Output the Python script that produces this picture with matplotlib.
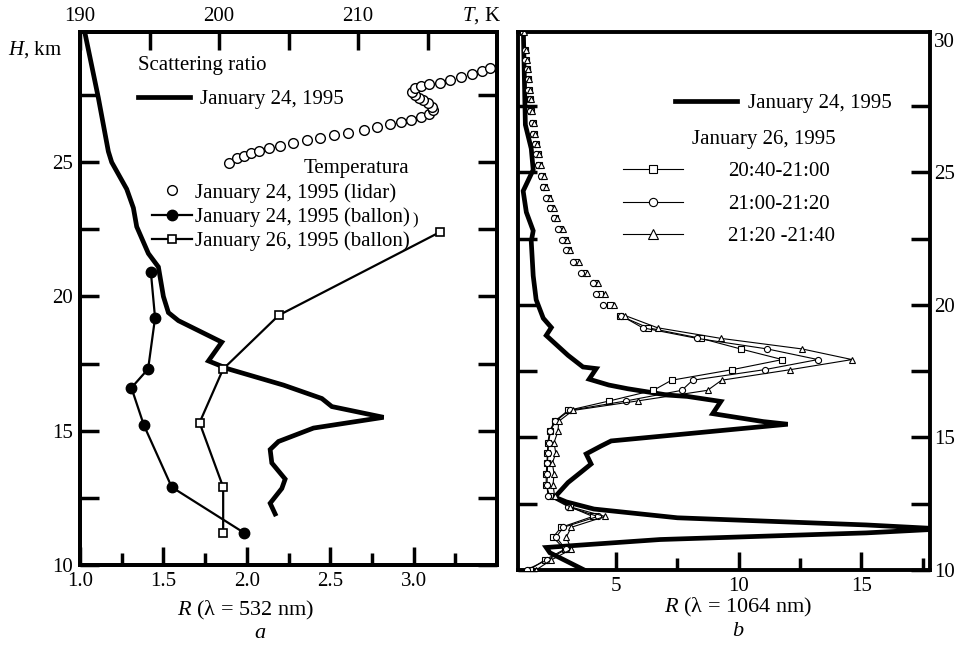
import matplotlib
matplotlib.use('Agg')
import matplotlib.pyplot as plt

plt.rcParams['font.family'] = ['Liberation Serif', 'DejaVu Serif']
plt.rcParams['mathtext.fontset'] = 'custom'
plt.rcParams['mathtext.rm'] = 'Liberation Serif'
plt.rcParams['mathtext.it'] = 'Liberation Serif:italic'
plt.rcParams['font.size'] = 15

# ---- panel a: scattering ratio at 532 nm, January 24 ----
h_sr532 = [29.8, 27.4, 25.4, 25.0, 24.0, 23.3, 22.6, 21.6, 21.1, 20.0, 19.4, 19.1,
           18.3, 17.6, 17.3, 16.7, 16.2, 15.9, 15.5, 15.1, 14.6, 14.3, 13.8, 13.2,
           12.85, 12.3, 11.9]
r_sr532 = [1.03, 1.11, 1.17, 1.19, 1.28, 1.32, 1.34, 1.41, 1.47, 1.50, 1.53, 1.59,
           1.85, 1.77, 1.89, 2.22, 2.45, 2.51, 2.82, 2.40, 2.19, 2.14, 2.15, 2.23,
           2.21, 2.14, 2.17]

# temperature, lidar, January 24
h_lidar = [24.96, 25.15, 25.22, 25.33, 25.41, 25.52, 25.59, 25.70, 25.81, 25.89,
           26.00, 26.07, 26.19, 26.30, 26.41, 26.48, 26.59, 26.67, 26.81, 26.96,
           27.07, 27.19, 27.30, 27.41, 27.52, 27.63, 27.78, 27.85, 27.93, 27.96,
           28.07, 28.19, 28.30, 28.41, 28.52]
t_lidar = [200.7, 201.3, 201.8, 202.3, 202.9, 203.6, 204.4, 205.3, 206.3, 207.3,
           208.3, 209.3, 210.4, 211.4, 212.3, 213.1, 213.8, 214.5, 215.1, 215.4,
           215.3, 215.0, 214.7, 214.4, 214.1, 213.9, 214.1, 214.5, 215.1, 215.9,
           216.6, 217.4, 218.2, 218.9, 219.5]

# temperature, balloon soundings
h_ball24 = [20.9, 19.2, 17.3, 16.6, 15.2, 12.9, 11.2]
t_ball24 = [195.1, 195.4, 194.9, 193.7, 194.6, 196.6, 201.8]
h_ball26 = [22.4, 19.3, 17.3, 15.3, 12.9, 11.2]
t_ball26 = [215.9, 204.3, 200.3, 198.6, 200.3, 200.3]

# ---- panel b: scattering ratio at 1064 nm ----
h_sr1064 = [30.3, 26.8, 25.9, 25.1, 24.3, 23.5, 22.8, 22.4, 21.1, 20.2, 19.5, 19.15,
            18.85, 18.1, 17.66, 17.6, 17.2, 16.98, 16.84, 16.6, 16.55, 16.36, 15.9,
            15.6, 15.5, 14.87, 14.68, 14.38, 14.0, 13.7, 13.3, 12.75, 12.57, 12.3,
            11.97, 11.7, 11.55, 11.4, 11.15, 10.85, 10.65, 10.0]
r_sr1064 = [1.22, 1.30, 1.54, 1.62, 1.21, 1.34, 1.62, 1.54, 1.62, 1.74, 2.03, 2.36,
            2.15, 3.04, 3.65, 4.19, 3.90, 4.70, 5.47, 7.10, 7.90, 9.27, 8.94,
            11.0, 12.0, 4.80, 4.39, 3.78, 3.98, 3.58, 3.04, 2.50, 2.97, 4.10,
            7.50, 15.2, 18.3, 15.2, 6.80, 2.15, 2.30, 3.70]

# January 26, upper part (points only)
h_upper = [30.3, 29.62, 29.24, 28.91, 28.52, 28.13, 27.76, 27.32, 26.87, 26.46,
           26.08, 25.69, 25.28, 24.88, 24.47, 24.04, 23.67, 23.28, 22.87, 22.45,
           22.06, 21.62, 21.21, 20.82, 20.41, 20.01]
r_sq_upper = [1.22, 1.30, 1.32, 1.38, 1.42, 1.44, 1.50, 1.53, 1.60, 1.65, 1.72, 1.80,
              1.87, 1.98, 2.08, 2.22, 2.36, 2.52, 2.72, 2.90, 3.04, 3.38, 3.70, 4.15,
              4.35, 4.75]
r_ci_upper = [1.20, 1.27, 1.30, 1.35, 1.39, 1.41, 1.47, 1.50, 1.56, 1.61, 1.68, 1.75,
              1.82, 1.93, 2.02, 2.15, 2.29, 2.45, 2.62, 2.80, 2.95, 3.25, 3.55, 4.05,
              4.19, 4.46]
r_tr_upper = [1.25, 1.34, 1.36, 1.42, 1.46, 1.48, 1.55, 1.58, 1.66, 1.70, 1.78, 1.86,
              1.93, 2.05, 2.16, 2.30, 2.45, 2.60, 2.82, 3.00, 3.14, 3.50, 3.80, 4.25,
              4.55, 4.93]

# January 26, lower part (connected)
h_lower = [19.60, 19.14, 18.74, 18.34, 17.94, 17.56, 17.16, 16.78, 16.38, 16.02,
           15.61, 15.24, 14.81, 14.41, 14.03, 13.63, 13.22, 12.80, 12.39, 12.02,
           11.61, 11.24, 10.78, 10.38, 10.01]
r_sq_lower = [5.14, 6.30, 8.46, 10.08, 11.78, 9.74, 7.26, 6.52, 4.73, 3.04,
              2.49, 2.29, 2.22, 2.20, 2.18, 2.15, 2.15, 2.29, 3.10, 4.05,
              2.76, 2.43, 2.90, 2.09, 1.48]
r_ci_lower = [5.20, 6.08, 8.30, 11.17, 13.23, 11.06, 8.12, 7.68, 5.41, 3.10,
              2.52, 2.32, 2.25, 2.22, 2.20, 2.20, 2.18, 2.22, 3.05, 4.25,
              2.85, 2.55, 2.95, 2.20, 1.35]
r_tr_lower = [5.37, 6.69, 9.27, 12.59, 14.62, 12.11, 9.30, 8.73, 5.88, 3.24,
              2.66, 2.63, 2.47, 2.54, 2.40, 2.47, 2.43, 2.49, 3.10, 4.55,
              3.17, 2.97, 3.17, 2.36, 1.75]

intervals = ['20:40-21:00', '21:00-21:20', '21:20 -21:40']


def style_spines(ax):
    for sp in ax.spines.values():
        sp.set_linewidth(2.8)


fig = plt.figure(figsize=(9.64, 6.46), dpi=100)

# ================= panel a =================
ax1 = fig.add_axes([80 / 964, 1 - 565 / 646, 417 / 964, 533 / 646])
style_spines(ax1)
ax1.set_xlim(1.0, 3.5)
ax1.set_ylim(10, 29.85)
line_sr, = ax1.plot(r_sr532, h_sr532, color='black', lw=3.4,
                    solid_joinstyle='miter', label='January 24, 1995')

ax1.set_xticks([1.0, 1.5, 2.0, 2.5, 3.0])
ax1.set_xticklabels(['1.0', '1.5', '2.0', '2.5', '3.0'])
ax1.set_xticks([1.25, 1.75, 2.25, 2.75, 3.25], minor=True)
ax1.set_yticks([10, 15, 20, 25])
ax1.set_yticks([12.5, 17.5, 22.5, 27.5], minor=True)
ax1.tick_params(axis='x', which='major', direction='in', length=13, width=2.5,
                pad=5, top=False, labelsize=15)
ax1.tick_params(axis='x', which='minor', direction='in', length=9, width=2.5,
                top=False)
ax1.tick_params(axis='y', which='both', direction='in', length=14, width=2.5,
                left=True, right=True, pad=5, labelsize=15)

ax1.set_xlabel('$R$ (λ = 532 nm)', fontsize=16)
ax1.xaxis.set_label_coords(0.396, -0.064)
ax1.set_ylabel('$H$, km', rotation=0, ha='left', va='center', fontsize=15)
ax1.yaxis.set_label_coords(-0.173, 0.968)
ax1.text(0.432, -0.128, 'a', style='italic', ha='center', va='center',
         fontsize=16, transform=ax1.transAxes)

leg_a = ax1.legend(handles=[line_sr], title='Scattering ratio', loc='upper left',
                   bbox_to_anchor=(0.139, 0.955), frameon=False, borderpad=0,
                   borderaxespad=0, handlelength=2.5, handletextpad=0.5,
                   labelspacing=0.7, fontsize=15, title_fontsize=15,
                   alignment='left')

# temperature on the top axis
axT = ax1.twiny()
style_spines(axT)
axT.set_xlim(190, 220)
l_lidar, = axT.plot(t_lidar, h_lidar, ls='none', marker='o', ms=7.0, mfc='white',
                    mec='black', mew=1.0, label='January 24, 1995 (lidar)')
l_b24, = axT.plot(t_ball24, h_ball24, color='black', lw=1.6, marker='o', ms=7.5,
                  mfc='black', mec='black', label='January 24, 1995 (ballon)')
l_b26, = axT.plot(t_ball26, h_ball26, color='black', lw=1.6, marker='s', ms=6.0,
                  mfc='white', mec='black', mew=1.2, label='January 26, 1995 (ballon)')
axT.set_xticks([190, 195, 200, 205, 210, 215])
axT.set_xticklabels(['190', '', '200', '', '210', ''])
axT.tick_params(axis='x', direction='in', length=13, width=2.5, pad=4, labelsize=15)
axT.set_xlabel('$T$, K', fontsize=15, ha='center', va='bottom')
axT.xaxis.set_label_coords(0.962, 1.012)

axT.legend(handles=[l_lidar, l_b24, l_b26], title='Temperatura', loc='upper left',
           bbox_to_anchor=(0.173, 0.761), frameon=False, borderpad=0,
           borderaxespad=0, handlelength=1.9, handletextpad=0.15,
           labelspacing=0.22, fontsize=15, title_fontsize=15, alignment='right')
axT.text(0.803, 0.647, ')', fontsize=12, ha='center', va='center',
         transform=axT.transAxes)

# ================= panel b =================
ax2 = fig.add_axes([518 / 964, 1 - 570 / 646, 412 / 964, 538 / 646])
style_spines(ax2)
ax2.set_xlim(1.0, 17.8)
ax2.set_ylim(10, 30.3)

line_b, = ax2.plot(r_sr1064, h_sr1064, color='black', lw=3.4,
                   solid_joinstyle='miter', label='January 24, 1995', zorder=2)

mk = dict(mfc='white', mec='black', mew=0.8, color='black', lw=0.8, zorder=3)
ax2.plot(r_sq_upper, h_upper, ls='none', marker='s', ms=4.2, **mk)
ax2.plot(r_ci_upper, h_upper, ls='none', marker='o', ms=4.4, **mk)
ax2.plot(r_tr_upper, h_upper, ls='none', marker='^', ms=5.0, **mk)
l_sq, = ax2.plot(r_sq_lower, h_lower, ls='-', marker='s', ms=4.2, label=intervals[0], **mk)
l_ci, = ax2.plot(r_ci_lower, h_lower, ls='-', marker='o', ms=4.4, label=intervals[1], **mk)
l_tr, = ax2.plot(r_tr_lower, h_lower, ls='-', marker='^', ms=5.0, label=intervals[2], **mk)

ax2.set_xticks([5, 10, 15])
ax2.set_xticks([7.5, 12.5, 17.5], minor=True)
ax2.set_yticks([10, 15, 20, 25, 30])
ax2.set_yticks([12.5, 17.5, 22.5, 27.5], minor=True)
ax2.tick_params(axis='x', which='major', direction='in', length=13, width=2.5,
                pad=5, top=False, labelsize=15)
ax2.tick_params(axis='x', which='minor', direction='in', length=9, width=2.5,
                top=False)
ax2.tick_params(axis='y', which='both', direction='in', length=14, width=2.5,
                left=True, right=True, labelleft=False, labelright=True,
                pad=3, labelsize=15)
# the top label (30) has no tick mark in the original
top_tick = ax2.yaxis.get_major_ticks()[-1]
top_tick.tick1line.set_visible(False)
top_tick.tick2line.set_visible(False)

ax2.set_xlabel('$R$ (λ = 1064 nm)', fontsize=16)
ax2.xaxis.set_label_coords(0.534, -0.048)
ax2.text(0.534, -0.115, 'b', style='italic', ha='center', va='center',
         fontsize=16, transform=ax2.transAxes)

leg_b1 = ax2.legend(handles=[line_b], loc='upper left', bbox_to_anchor=(0.381, 0.885),
                    frameon=False, borderpad=0, borderaxespad=0, handlelength=3.0,
                    handletextpad=0.5, fontsize=15)
ax2.add_artist(leg_b1)
ax2.legend(handles=[l_sq, l_ci, l_tr], title='January 26, 1995', loc='upper left',
           bbox_to_anchor=(0.255, 0.818), frameon=False, borderpad=0,
           borderaxespad=0, handlelength=2.9, handletextpad=2.15,
           labelspacing=0.62, fontsize=15, title_fontsize=15, alignment='right',
           markerscale=1.35)

fig.savefig('out.png', dpi=100)
